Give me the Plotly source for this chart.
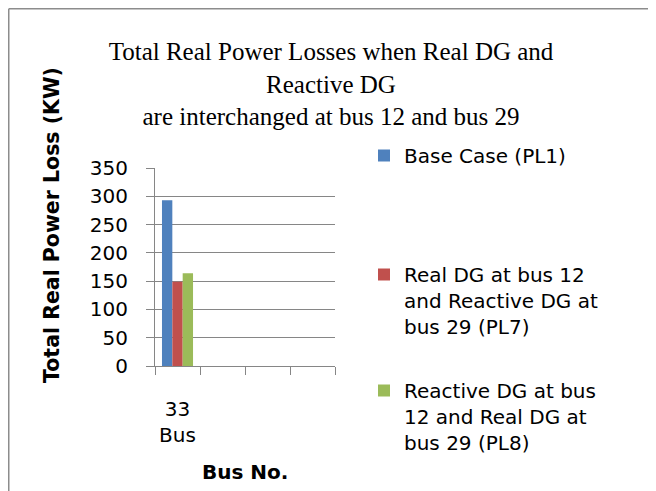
import plotly.graph_objects as go

categories = ["33<br>Bus", " ", "  ", "   "]
base_case = [293, None, None, None]
real12_reactive29 = [149, None, None, None]
reactive12_real29 = [164, None, None, None]

names = ["Base Case (PL1)",
         "Real DG at bus 12<br>and Reactive DG at<br>bus 29 (PL7)",
         "Reactive DG at bus<br>12 and Real DG at<br>bus 29 (PL8)"]
colors = ["#4F81BD", "#C0504D", "#9BBB59"]

# page body has an 8px margin, so the figure is drawn 8px in from the corner
OFF = 8
W, H = 656 - OFF, 491 - OFF
L, T = 155 - OFF, 168 - OFF
R, B = W - (335 - OFF), H - (366 - OFF)
pw, ph = W - L - R, H - T - B


def px_x(x):
    return (x - OFF - L) / pw


def px_y(y):
    return (H - B - (y - OFF)) / ph


sans = "DejaVu Sans"
grid = "#868686"

fig = go.Figure()
series = [base_case, real12_reactive29, reactive12_real29]
for i, (vals, name, col) in enumerate(zip(series, names, colors)):
    fig.add_trace(go.Bar(x=categories, y=vals, name=name, marker_color=col,
                         marker_line_width=0,
                         legend="legend" if i == 0 else "legend%d" % (i + 1)))

leg_common = dict(font=dict(family=sans, size=20, color="#000000"),
                  bgcolor="rgba(0,0,0,0)", borderwidth=0, valign="top",
                  xanchor="left", yanchor="top")
legend_tops = [136, 255, 371]

fig.update_layout(
    width=W, height=H,
    margin=dict(l=L, r=R, t=T, b=B),
    paper_bgcolor="white", plot_bgcolor="white",
    barmode="group", bargap=0.31, bargroupgap=0,
    title=dict(text="Total Real Power Losses when Real DG and<br>Reactive DG<br>are interchanged at bus 12 and bus 29",
               font=dict(family="Liberation Serif", size=25, color="#000000"),
               x=(331 - OFF) / W, xanchor="center", xref="container",
               y=1 - 52 / H, yanchor="middle", yref="container"),
    legend=dict(x=px_x(364), y=px_y(legend_tops[0]), **leg_common),
    legend2=dict(x=px_x(364), y=px_y(legend_tops[1]), **leg_common),
    legend3=dict(x=px_x(364), y=px_y(legend_tops[2]), **leg_common),
    xaxis=dict(type="category", categoryorder="array", categoryarray=categories,
               showline=True, linecolor=grid, linewidth=1,
               ticks="outside", tickson="boundaries", ticklen=8, tickcolor=grid,
               tickangle=0,
               tickfont=dict(family=sans, size=20, color="#000000"),
               ticklabelstandoff=25, showgrid=False),
    yaxis=dict(range=[0, 350], dtick=50, showline=True, linecolor=grid, linewidth=1,
               ticks="outside", ticklen=8, tickcolor=grid,
               gridcolor=grid, gridwidth=1, zeroline=False,
               tickfont=dict(family=sans, size=20, color="#000000"),
               ticklabelstandoff=14),
    showlegend=True,
)

fig.add_annotation(text="<b>Total Real Power Loss (KW)</b>", textangle=-90,
                   xref="paper", yref="paper", x=px_x(52), y=px_y(225),
                   xanchor="center", yanchor="middle", showarrow=False,
                   font=dict(family=sans, size=20.5, color="#000000"))
fig.add_annotation(text="<b>Bus No.</b>",
                   xref="paper", yref="paper", x=px_x(245), y=px_y(472),
                   xanchor="center", yanchor="middle", showarrow=False,
                   font=dict(family=sans, size=20, color="#000000"))

# chart frame: only the left and top edges show inside the page
frame = dict(color="#8c8c8c", width=1.5)
fig.add_shape(type="line", xref="paper", yref="paper",
              x0=px_x(OFF + 0.75), x1=px_x(OFF + 0.75), y0=px_y(OFF + 0.75), y1=px_y(H + OFF),
              line=frame, layer="below")
fig.add_shape(type="line", xref="paper", yref="paper",
              x0=px_x(OFF + 0.75), x1=px_x(W + OFF), y0=px_y(OFF + 0.75), y1=px_y(OFF + 0.75),
              line=frame, layer="below")

fig.write_html("out.html")
